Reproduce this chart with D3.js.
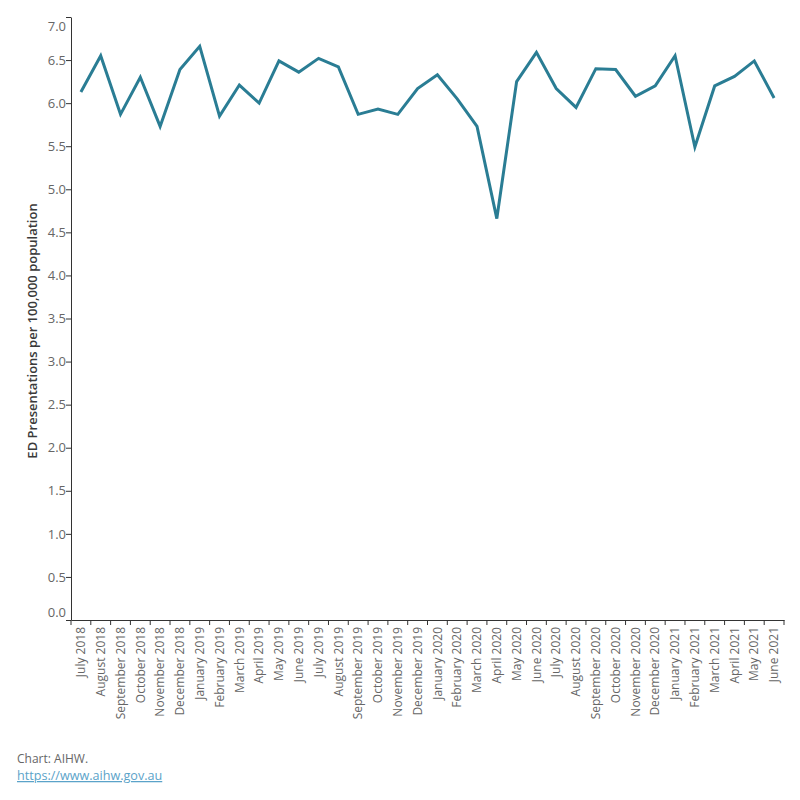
<!DOCTYPE html>
<html>
<head>
<meta charset="utf-8">
<script src="https://cdn.jsdelivr.net/npm/d3@7"></script>
<style>
  html, body { margin: 0; padding: 0; background: #fff; }
  svg { display: block; }
  text { font-family: "Open Sans", "Noto Sans", sans-serif; }
</style>
</head>
<body>
<svg id="chart" width="800" height="800"></svg>
<script>
const months = ["July 2018","August 2018","September 2018","October 2018","November 2018","December 2018",
  "January 2019","February 2019","March 2019","April 2019","May 2019","June 2019",
  "July 2019","August 2019","September 2019","October 2019","November 2019","December 2019",
  "January 2020","February 2020","March 2020","April 2020","May 2020","June 2020",
  "July 2020","August 2020","September 2020","October 2020","November 2020","December 2020",
  "January 2021","February 2021","March 2021","April 2021","May 2021","June 2021"];
const rates = [6.13,6.55,5.87,6.30,5.73,6.39,
  6.66,5.85,6.21,6.00,6.49,6.36,
  6.52,6.42,5.87,5.93,5.87,6.17,
  6.33,6.05,5.73,4.66,6.25,6.59,
  6.17,5.95,6.40,6.39,6.08,6.20,
  6.55,5.49,6.20,6.31,6.49,6.06];
const yTicks = [0,0.5,1,1.5,2,2.5,3,3.5,4,4.5,5,5.5,6,6.5,7];
const yTitle = "ED Presentations per 100,000 population";

const svg = d3.select("#chart");
const mLeft = 71, mRight = 784, mTop = 17, mBottom = 620;

const x = d3.scaleBand().domain(months).range([mLeft, mRight]).padding(0);
const y = d3.scaleLinear().domain([0, 7]).range([mBottom, mTop]);

// Y axis
const yAxis = svg.append("g").attr("transform", `translate(${mLeft},0)`)
  .call(d3.axisLeft(y).tickValues(yTicks).tickFormat(d3.format(".1f")).tickSize(5).tickSizeOuter(0));
yAxis.select(".domain").attr("stroke", "#333");
yAxis.selectAll(".tick line").attr("stroke", "#333");
yAxis.selectAll(".tick text").attr("fill", "#666").attr("font-size", 13)
  .attr("font-family", '"Open Sans", sans-serif').attr("x", -5)
  .attr("dy", d => d === 7 ? "1.05em" : d === 0 ? "-0.3em" : "0.32em");

// X axis
const xAxis = svg.append("g").attr("transform", `translate(0,${mBottom})`)
  .call(d3.axisBottom(x).tickSize(0).tickSizeOuter(0));
xAxis.select(".domain").attr("stroke", "#333");
xAxis.selectAll(".tick text").attr("fill", "#666").attr("font-size", 12)
  .attr("font-family", '"Open Sans", sans-serif')
  .attr("text-anchor", "end")
  .attr("transform", "rotate(-90)")
  .attr("x", -7).attr("y", 0).attr("dy", "0.35em");
// band boundary ticks
const bounds = months.map(m => x(m)).concat([x(months[months.length - 1]) + x.bandwidth()]);
xAxis.selectAll(".bnd").data(bounds).join("line").attr("class", "bnd")
  .attr("x1", d => d).attr("x2", d => d).attr("y1", 0).attr("y2", 5)
  .attr("stroke", "#333");

// Y title
svg.append("text")
  .attr("transform", `translate(37,331) rotate(-90)`)
  .attr("text-anchor", "middle").attr("font-size", 13).attr("font-weight", 600).attr("fill", "#3a3a3a")
  .text(yTitle);

// Line
const line = d3.line().x((d, i) => x(months[i]) + x.bandwidth() / 2).y(d => y(d));
svg.append("path").datum(rates).attr("d", line)
  .attr("fill", "none").attr("stroke", "#2a7d94").attr("stroke-width", 3)
  .attr("stroke-linejoin", "miter");

// Footer
svg.append("text").attr("x", 17).attr("y", 763).attr("font-size", 12).attr("fill", "#666").text("Chart: AIHW.");
svg.append("text").attr("x", 17).attr("y", 780).attr("font-size", 12.6).attr("fill", "#5ba3c9")
  .attr("text-decoration", "underline").text("https://www.aihw.gov.au");
</script>
</body>
</html>
